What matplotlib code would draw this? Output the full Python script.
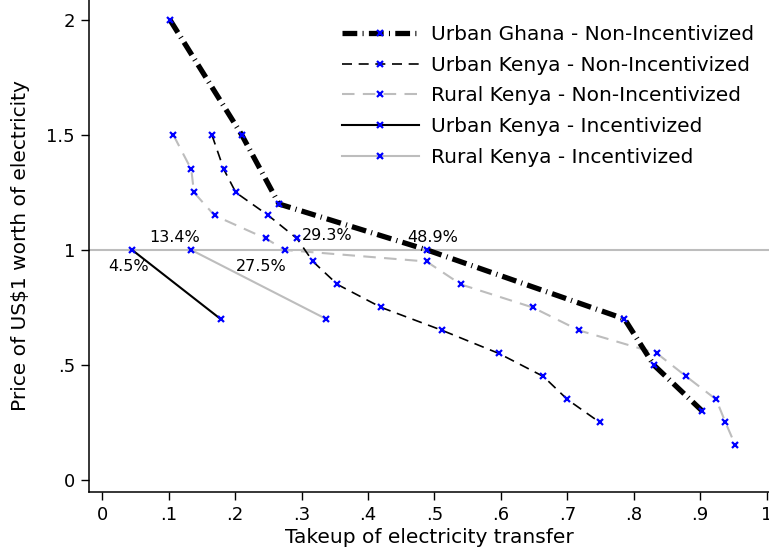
import matplotlib
matplotlib.use("Agg")
import matplotlib.pyplot as plt

plt.rcParams.update({
    "font.family": ["DejaVu Sans"],
    "font.size": 13,
})

# ── data (takeup share, price of US$1 of electricity) ──────────────────────
ghana_ni_x = [0.102, 0.210, 0.266, 0.489, 0.786, 0.830, 0.903]
ghana_ni_y = [2.0, 1.5, 1.2, 1.0, 0.7, 0.5, 0.3]

ukenya_ni_x = [0.165, 0.183, 0.201, 0.250, 0.293, 0.317, 0.354, 0.420,
               0.512, 0.597, 0.664, 0.700, 0.749]
ukenya_ni_y = [1.5, 1.35, 1.25, 1.15, 1.05, 0.95, 0.85, 0.75,
               0.65, 0.55, 0.45, 0.35, 0.25]

rkenya_ni_x = [0.107, 0.134, 0.138, 0.169, 0.246, 0.275, 0.488, 0.540,
               0.648, 0.718, 0.835, 0.879, 0.924, 0.938, 0.953]
rkenya_ni_y = [1.5, 1.35, 1.25, 1.15, 1.05, 1.0, 0.95, 0.85,
               0.75, 0.65, 0.55, 0.45, 0.35, 0.25, 0.15]

ukenya_inc_x = [0.045, 0.178]
ukenya_inc_y = [1.0, 0.7]

rkenya_inc_x = [0.134, 0.337]
rkenya_inc_y = [1.0, 0.7]

labels = ["Urban Ghana - Non-Incentivized", "Urban Kenya - Non-Incentivized",
          "Rural Kenya - Non-Incentivized", "Urban Kenya - Incentivized",
          "Rural Kenya - Incentivized"]

# takeup at price = 1 (annotations)
ann_text = ["13.4%", "4.5%", "27.5%", "29.3%", "48.9%"]
ann_x = [0.109, 0.040, 0.239, 0.338, 0.498]
ann_y = [1.054, 0.927, 0.927, 1.061, 1.054]

GRAY = "#bdbdbd"
mk = dict(marker="x", markersize=4, markeredgewidth=1.6,
          markeredgecolor="#0000ff", markerfacecolor="#0000ff")

fig = plt.figure(figsize=(7.69, 5.5), dpi=100)
ax = fig.add_axes([89 / 769, 58.3 / 550, 680 / 769, 491.7 / 550])

ax.axhline(1.0, color=GRAY, lw=1.5, zorder=1)

ax.plot(ghana_ni_x, ghana_ni_y, color="black", lw=3.8,
        dashes=(2.8, 1.0, 0.2, 1.0), label=labels[0], zorder=3, **mk)
ax.plot(ukenya_ni_x, ukenya_ni_y, color="black", lw=1.2,
        dashes=(6, 4), label=labels[1], zorder=3, **mk)
ax.plot(rkenya_ni_x, rkenya_ni_y, color=GRAY, lw=1.5,
        dashes=(6, 4), label=labels[2], zorder=2, **mk)
ax.plot(ukenya_inc_x, ukenya_inc_y, color="black", lw=1.5,
        label=labels[3], zorder=3, **mk)
ax.plot(rkenya_inc_x, rkenya_inc_y, color=GRAY, lw=1.5,
        label=labels[4], zorder=2, **mk)

for t, x, y in zip(ann_text, ann_x, ann_y):
    ax.text(x, y, t, ha="center", va="center", fontsize=11.5)

ax.set_xlim(-0.02, 1.0035)
ax.set_ylim(-0.051, 2.087)
ax.set_xticks([i / 10 for i in range(11)])
ax.set_xticklabels(["0", ".1", ".2", ".3", ".4", ".5", ".6", ".7", ".8", ".9", "1"])
ax.set_yticks([0, 0.5, 1, 1.5, 2])
ax.set_yticklabels(["0", ".5", "1", "1.5", "2"])
ax.tick_params(direction="out", length=6, width=1, labelsize=13, pad=4)

for s in ["top", "right"]:
    ax.spines[s].set_visible(False)
for s in ["left", "bottom"]:
    ax.spines[s].set_linewidth(1.1)

ax.set_xlabel("Takeup of electricity transfer", fontsize=14.5, labelpad=3)
ax.set_ylabel(r"Price of US\$1 worth of electricity", fontsize=14.5, labelpad=12)

ax.legend(loc="upper left", bbox_to_anchor=((342 - 89) / 680, 1 - 25 / 491.7),
          frameon=False, numpoints=1, handlelength=3.8, handletextpad=0.6,
          labelspacing=0.58, fontsize=14.5, borderaxespad=0, borderpad=0)

fig.savefig("out.png", dpi=100)
